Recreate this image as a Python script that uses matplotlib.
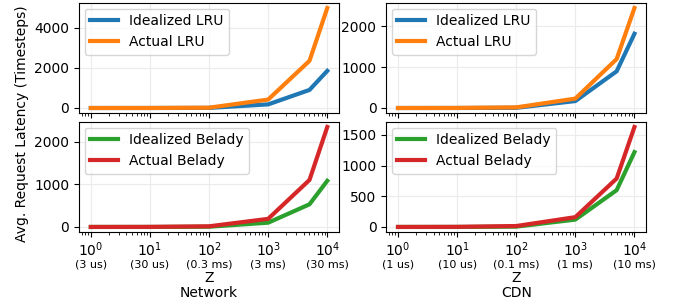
import matplotlib
matplotlib.use("Agg")
import matplotlib.pyplot as plt
import numpy as np

z = [1, 10, 100, 1000, 5000, 10000]
net_ideal_lru = [0, 0, 5, 180, 900, 1850]
net_actual_lru = [0, 2, 15, 420, 2350, 4980]
cdn_ideal_lru = [0, 0, 5, 170, 900, 1820]
cdn_actual_lru = [0, 2, 15, 230, 1200, 2450]
net_ideal_bel = [0, 0, 5, 100, 530, 1080]
net_actual_bel = [0, 2, 15, 190, 1100, 2340]
cdn_ideal_bel = [0, 0, 5, 120, 600, 1220]
cdn_actual_bel = [0, 2, 15, 160, 790, 1630]

tick_vals = [1, 10, 100, 1000, 10000]
tick_main = ["$10^0$", "$10^1$", "$10^2$", "$10^3$", "$10^4$"]
net_sub = ["(3 us)", "(30 us)", "(0.3 ms)", "(3 ms)", "(30 ms)"]
cdn_sub = ["(1 us)", "(10 us)", "(0.1 ms)", "(1 ms)", "(10 ms)"]
col_titles = ["Network", "CDN"]

fig, axes = plt.subplots(2, 2, figsize=(6.81, 3.06), dpi=100, sharex=True)
fig.subplots_adjust(left=0.116, right=0.949, top=0.990, bottom=0.242, wspace=0.181, hspace=0.082)

blue, orange, green, red = "#1f77b4", "#ff7f0e", "#2ca02c", "#d62728"
lw = 3

data = [
    [(net_ideal_lru, net_actual_lru, "LRU", blue, orange), (cdn_ideal_lru, cdn_actual_lru, "LRU", blue, orange)],
    [(net_ideal_bel, net_actual_bel, "Belady", green, red), (cdn_ideal_bel, cdn_actual_bel, "Belady", green, red)],
]

yticks = [[[0, 2000, 4000], [0, 1000, 2000]], [[0, 1000, 2000], [0, 500, 1000, 1500]]]

for r in range(2):
    for c in range(2):
        ax = axes[r][c]
        ideal, actual, name, c1, c2 = data[r][c]
        ax.plot(z, ideal, color=c1, lw=lw, label="Idealized " + name)
        ax.plot(z, actual, color=c2, lw=lw, label="Actual " + name)
        ax.set_xscale("log")
        ax.set_yticks(yticks[r][c])
        ax.grid(True, color="#ebebeb", lw=0.8)
        ax.tick_params(labelsize=10)
        ax.legend(loc="upper left", fontsize=10, handlelength=2.0, borderaxespad=0.4)
        if r == 1:
            ax.set_xticks(tick_vals)
            ax.set_xticklabels(tick_main)
            ax.tick_params(axis="x", which="major", pad=2.5)
            subs = net_sub if c == 0 else cdn_sub
            for tv, s in zip(tick_vals, subs):
                ax.annotate(s, xy=(tv, 0), xycoords=("data", "axes fraction"),
                            xytext=(0, -23.2), textcoords="offset points",
                            ha="center", va="center", fontsize=8)
            ax.annotate("Z", xy=(0.5, 0), xycoords="axes fraction",
                        xytext=(0, -33), textcoords="offset points",
                        ha="center", va="center", fontsize=10)
            ax.annotate(col_titles[c], xy=(0.5, 0), xycoords="axes fraction",
                        xytext=(0, -43.7), textcoords="offset points",
                        ha="center", va="center", fontsize=10)

fig.text(0.032, 0.595, "Avg. Request Latency (Timesteps)", rotation=90, ha="center", va="center", fontsize=10)

fig.savefig("out.png", dpi=100)
